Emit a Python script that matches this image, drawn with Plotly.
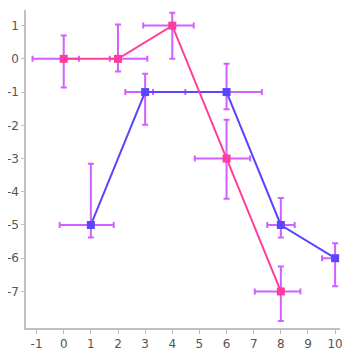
import plotly.graph_objects as go

blue_x = [1, 3, 6, 8, 10]
blue_y = [-5, -1, -1, -5, -6]
blue_ex_minus = [1.15, 0.73, 1.52, 0.5, 0.48]
blue_ex_plus = [0.84, 0.29, 1.3, 0.51, 0.0]
blue_ey_minus = [0.38, 0.98, 0.52, 0.38, 0.84]
blue_ey_plus = [1.84, 0.55, 0.85, 0.81, 0.45]

pink_x = [0, 2, 4, 6, 8]
pink_y = [0, 0, 1, -3, -7]
pink_ex_minus = [1.15, 0.3, 1.07, 1.17, 0.96]
pink_ex_plus = [0.56, 1.08, 0.79, 0.87, 0.72]
pink_ey_minus = [0.86, 0.38, 1.0, 1.21, 0.89]
pink_ey_plus = [0.7, 1.03, 0.39, 1.17, 0.75]

x_ticks = list(range(-1, 11))
x_labels = [str(v) for v in x_ticks]
y_ticks = list(range(-7, 2))
y_labels = [str(v) for v in y_ticks]

err_color = "#d060ff"
blue = "#5a46ff"
pink = "#ff3d9a"

fig = go.Figure()
for xs, ys, exm, exp, eym, eyp in [
    (blue_x, blue_y, blue_ex_minus, blue_ex_plus, blue_ey_minus, blue_ey_plus),
    (pink_x, pink_y, pink_ex_minus, pink_ex_plus, pink_ey_minus, pink_ey_plus),
]:
    fig.add_trace(go.Scatter(
        x=xs, y=ys, mode="markers", marker=dict(size=1, opacity=0),
        error_x=dict(type="data", array=exp, arrayminus=exm, color=err_color, thickness=2, width=3),
        error_y=dict(type="data", array=eyp, arrayminus=eym, color=err_color, thickness=2, width=3),
        hoverinfo="skip", showlegend=False, cliponaxis=False,
    ))

fig.add_trace(go.Scatter(x=blue_x, y=blue_y, mode="lines+markers",
                         line=dict(color=blue, width=2),
                         marker=dict(symbol="square", size=8, color=blue),
                         showlegend=False))
fig.add_trace(go.Scatter(x=pink_x, y=pink_y, mode="lines+markers",
                         line=dict(color=pink, width=2),
                         marker=dict(symbol="square", size=8, color=pink),
                         showlegend=False))

fig.update_layout(
    width=342, height=342,
    margin=dict(l=18, r=10, t=2, b=22),
    paper_bgcolor="white", plot_bgcolor="white",
    font=dict(family="DejaVu Sans", size=12, color="#555"),
    xaxis=dict(range=[-1.39, 10.18], tickvals=x_ticks, ticktext=x_labels, showgrid=False, zeroline=False,
               showline=True, linecolor="#c0c0c0", linewidth=1.5, automargin=False,
               ticks="outside", ticklen=4, tickcolor="#c0c0c0", tickwidth=1),
    yaxis=dict(range=[-8.10, 1.47], tickvals=y_ticks, ticktext=y_labels, showgrid=False, zeroline=False,
               showline=True, linecolor="#c0c0c0", linewidth=1.5, automargin=False,
               ticks="outside", ticklen=3, tickcolor="#c0c0c0", tickwidth=1),
)

fig.write_html("out.html")
